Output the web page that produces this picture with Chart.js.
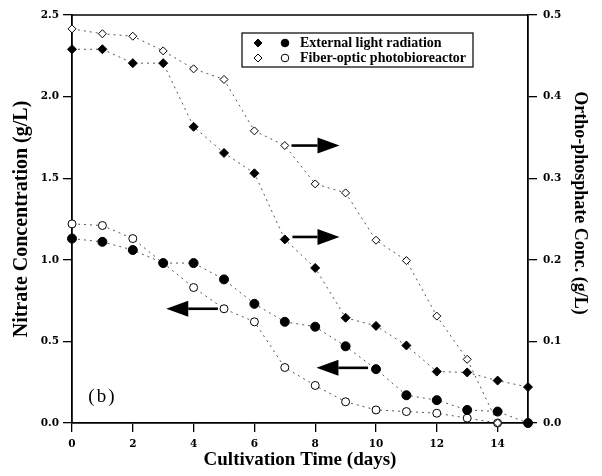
<!DOCTYPE html>
<html>
<head>
<meta charset="utf-8">
<script src="https://cdn.jsdelivr.net/npm/chart.js@4.4.1/dist/chart.umd.min.js"></script>
<style>
  html, body { margin: 0; padding: 0; background: #fff; }
  #wrap { width: 602px; height: 476px; }
</style>
</head>
<body>
<div id="wrap"><canvas id="c" width="602" height="476"></canvas></div>
<script>
// Values (b).
const daysLong = [0, 1, 2, 3, 4, 5, 6, 7, 8, 9, 10, 11, 12, 13, 14, 15];
const daysShort = [0, 1, 2, 3, 4, 5, 6, 7, 8, 9, 10, 11, 12, 13, 14];

// ortho-phosphate (right axis, g/L)
const extPhosphate = [0.458, 0.458, 0.441, 0.441, 0.363, 0.331, 0.306, 0.225, 0.190, 0.129, 0.119, 0.095, 0.063, 0.062, 0.052, 0.044];
const fiberPhosphate = [0.483, 0.477, 0.474, 0.456, 0.434, 0.421, 0.358, 0.340, 0.293, 0.282, 0.224, 0.199, 0.131, 0.078, 0.0];

// nitrate (left axis, g/L)
const extNitrate = [1.13, 1.11, 1.06, 0.98, 0.98, 0.88, 0.73, 0.62, 0.59, 0.47, 0.33, 0.17, 0.14, 0.08, 0.07, 0.0];
const fiberNitrate = [1.22, 1.21, 1.13, 0.98, 0.83, 0.70, 0.62, 0.34, 0.23, 0.13, 0.08, 0.07, 0.06, 0.03, 0.0];

const xTicks = [0, 2, 4, 6, 8, 10, 12, 14];
const nitrateTicks = [0, 0.5, 1.0, 1.5, 2.0, 2.5];
const phosphateTicks = [0, 0.1, 0.2, 0.3, 0.4, 0.5];
const legendLabels = ["External light radiation", "Fiber-optic photobioreactor"];

// arrows: which axis they point to, tail/tip in days, height in that axis' units
const arrows = [
  { axis: "y1", from: 7.22, to: 8.80, y: 0.340 },
  { axis: "y1", from: 7.25, to: 8.80, y: 0.228 },
  { axis: "y", from: 4.80, to: 3.10, y: 0.70 },
  { axis: "y", from: 9.74, to: 8.04, y: 0.338 },
];

const SERIF = "'Liberation Serif', 'DejaVu Serif', serif";
const TICKFONT = "'DejaVu Serif', 'Liberation Serif', serif";
const pts = (xs, ys) => ys.map((v, i) => ({ x: xs[i], y: v }));

function series(data, axis, style, filled) {
  return {
    data,
    yAxisID: axis,
    showLine: true,
    clip: false,
    borderColor: "#555",
    borderWidth: 1,
    borderDash: [2, 4],
    pointStyle: style,
    pointRadius: filled ? 4.5 : 4,
    pointBackgroundColor: filled ? "#000" : "#fff",
    pointBorderColor: "#000",
    pointBorderWidth: 1,
  };
}

function axisBase(min, max, ticks, fmt, pad) {
  return {
    type: "linear",
    min, max,
    afterBuildTicks: (s) => { s.ticks = ticks.map((v) => ({ value: v })); },
    grid: { drawOnChartArea: false, drawTicks: true, tickLength: 9, color: "#000", lineWidth: 1.3 },
    border: { display: true, color: "#000", width: 1.8 },
    ticks: {
      color: "#000",
      padding: pad,
      font: { family: TICKFONT, weight: "bold", size: 10.5 },
      callback: fmt,
    },
  };
}

const frame = {
  id: "frame",
  afterDraw(chart) {
    const { ctx, chartArea: a, scales } = chart;
    ctx.save();
    ctx.strokeStyle = "#000";
    ctx.lineWidth = 1.5;
    ctx.beginPath();
    ctx.moveTo(a.left, a.top);
    ctx.lineTo(a.right, a.top);
    ctx.stroke();

    // right axis title, sits a bit above centre in the original
    ctx.save();
    ctx.translate(580, 203);
    ctx.rotate(Math.PI / 2);
    ctx.font = "bold 18px " + SERIF;
    ctx.fillStyle = "#000";
    ctx.textAlign = "center";
    ctx.textBaseline = "middle";
    ctx.fillText("Ortho-phosphate Conc. (g/L)", 0, 0);
    ctx.restore();

    // arrows
    ctx.fillStyle = "#000";
    for (const ar of arrows) {
      const y = scales[ar.axis].getPixelForValue(ar.y);
      const x0 = scales.x.getPixelForValue(ar.from);
      const x1 = scales.x.getPixelForValue(ar.to);
      const dir = Math.sign(x1 - x0);
      const head = 22;
      ctx.lineWidth = 2.6;
      ctx.beginPath();
      ctx.moveTo(x0, y);
      ctx.lineTo(x1 - dir * head, y);
      ctx.stroke();
      ctx.beginPath();
      ctx.moveTo(x1, y);
      ctx.lineTo(x1 - dir * head, y - 8);
      ctx.lineTo(x1 - dir * head, y + 8);
      ctx.closePath();
      ctx.fill();
    }

    // panel label
    ctx.font = "19px " + SERIF;
    ctx.letterSpacing = "2px";
    ctx.textAlign = "center";
    ctx.textBaseline = "middle";
    ctx.fillText("(b)", scales.x.getPixelForValue(1.0), scales.y.getPixelForValue(0.16));
    ctx.letterSpacing = "0px";

    // legend box
    const bx = 242, by = 33, bw = 231, bh = 34;
    ctx.lineWidth = 1.2;
    ctx.strokeRect(bx, by, bw, bh);
    const rows = [by + 10, by + 25];
    rows.forEach((ry, i) => {
      const filled = i === 0;
      ctx.lineWidth = 1;
      ctx.beginPath();
      ctx.moveTo(258, ry - 4); ctx.lineTo(262, ry); ctx.lineTo(258, ry + 4); ctx.lineTo(254, ry);
      ctx.closePath();
      ctx.fillStyle = filled ? "#000" : "#fff";
      ctx.fill(); ctx.stroke();
      ctx.beginPath();
      ctx.arc(285, ry, 3.8, 0, Math.PI * 2);
      ctx.fill(); ctx.stroke();
      ctx.fillStyle = "#000";
      ctx.font = "bold 14px " + SERIF;
      ctx.textAlign = "left";
      ctx.fillText(legendLabels[i], 300, ry + 0.5);
    });
    ctx.restore();
  },
};

new Chart(document.getElementById("c"), {
  type: "scatter",
  data: {
    datasets: [
      series(pts(daysLong, extPhosphate), "y1", "rectRot", true),
      series(pts(daysShort, fiberPhosphate), "y1", "rectRot", false),
      series(pts(daysLong, extNitrate), "y", "circle", true),
      series(pts(daysShort, fiberNitrate), "y", "circle", false),
    ],
  },
  options: {
    responsive: false,
    animation: false,
    devicePixelRatio: 1,
    layout: { padding: { top: 15, left: 0, right: 0, bottom: 0 } },
    plugins: { legend: { display: false }, tooltip: { enabled: false } },
    scales: {
      x: Object.assign(axisBase(0, 15, xTicks, (v) => String(v), 6), {
        position: "bottom",
        afterFit: (s) => { s.height = 53; },
        title: {
          display: true, text: "Cultivation Time (days)", color: "#000",
          font: { family: SERIF, weight: "bold", size: 19 },
          padding: { top: 0, bottom: 5 },
        },
      }),
      y: Object.assign(axisBase(0, 2.5, nitrateTicks, (v) => v.toFixed(1), 4), {
        position: "left",
        afterFit: (s) => { s.width = 72; },
        title: {
          display: true, text: "Nitrate Concentration (g/L)", color: "#000",
          font: { family: SERIF, weight: "bold", size: 20 },
          padding: { top: 10, bottom: 0 },
        },
      }),
      y1: Object.assign(axisBase(0, 0.5, phosphateTicks, (v) => v.toFixed(1), 6), {
        position: "right",
        afterFit: (s) => { s.width = 74; },
      }),
    },
  },
  plugins: [frame],
});
</script>
</body>
</html>
